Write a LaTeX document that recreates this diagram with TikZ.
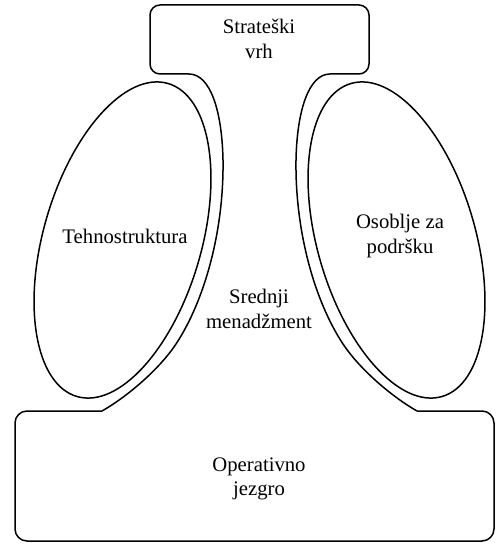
\documentclass[tikz,border=0pt]{standalone}
\usepackage{fontspec}
\setmainfont{Liberation Serif}
\begin{document}
\begin{tikzpicture}[x=1bp,y=-1bp,
  outline/.style={line width=1.5bp, line join=round},
  label/.style={align=center, font=\fontsize{20.7bp}{24.5bp}\selectfont, inner sep=0pt}]
\useasboundingbox (0,0) rectangle (496,544);

% strategic apex, open at the bottom towards the middle line
\draw[outline, rounded corners=10bp] (189,74) -- (150,74) -- (150,5) -- (369,5) -- (369,74) -- (330,74);
% operating core, open at the top towards the middle line
\draw[outline, rounded corners=12bp] (102,411) -- (15,411) -- (15,541) -- (494,541) -- (494,411) -- (417,411);

% middle line, left and right flanks
\draw[outline] (189,74) .. controls (210,74) and (222,110) .. (223,160)
  .. controls (224,230) and (205,300) .. (176,344)
  .. controls (158,371) and (125,398) .. (102,411);
\draw[outline] (330,74) .. controls (309,74) and (297,110) .. (296,160)
  .. controls (295,230) and (314,300) .. (343,344)
  .. controls (361,371) and (394,398) .. (417,411);

% technostructure and support staff
\draw[outline, rotate around={-16.2:(122.5,240)}] (122.5,240) ellipse [x radius=79, y radius=163];
\draw[outline, rotate around={16.2:(396.5,240)}] (396.5,240) ellipse [x radius=79, y radius=163];

\node[label] (apex) at (259,39) {Strateški\\vrh};
\node[label] (techno) at (125,236) {Tehnostruktura};
\node[label] (support) at (400,236) {Osoblje za\\podršku};
\node[label] (middle) at (259,309) {Srednji\\menadžment};
\node[label] (core) at (259,479) {Operativno\\jezgro};
\end{tikzpicture}
\end{document}
